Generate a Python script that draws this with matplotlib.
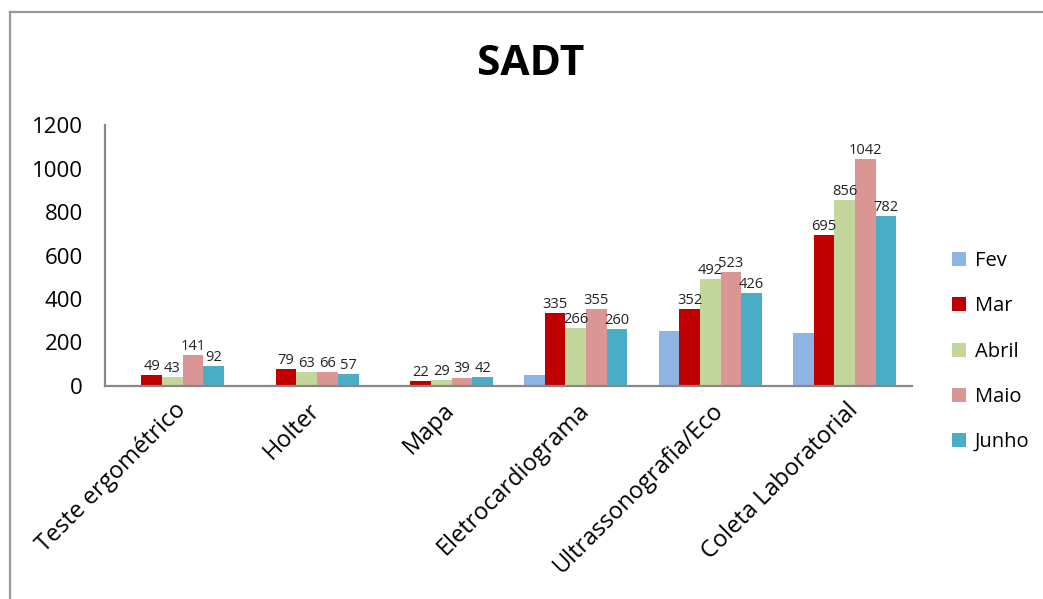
import numpy as np
import matplotlib.pyplot as plt
from matplotlib.lines import Line2D

plt.rcParams['font.family'] = ['Open Sans', 'DejaVu Sans']

categorias = ['Teste ergométrico', 'Holter', 'Mapa', 'Eletrocardiograma',
              'Ultrassonografia/Eco', 'Coleta Laboratorial']
meses = ['Fev', 'Mar', 'Abril', 'Maio', 'Junho']

fev = [0, 0, 0, 50, 255, 245]
mar = [49, 79, 22, 335, 352, 695]
abril = [43, 63, 29, 266, 492, 856]
maio = [141, 66, 39, 355, 523, 1042]
junho = [92, 57, 42, 260, 426, 782]

cores = ['#8EB4E3', '#C00000', '#C3D69B', '#D99694', '#4BACC6']
series = [fev, mar, abril, maio, junho]
rotular = [False, True, True, True, True]

fig = plt.figure(figsize=(10.43, 5.99), dpi=100)
ax = fig.add_axes([0.1007, 0.3556, 0.7737, 0.4357])

x = np.arange(len(categorias))
w = 1 / 6.5
for i, (vals, cor, nome) in enumerate(zip(series, cores, meses)):
    pos = x + (i - 2) * w
    bars = ax.bar(pos, vals, width=w, color=cor, label=nome)
    if rotular[i]:
        for b, v in zip(bars, vals):
            ax.text(b.get_x() + b.get_width() / 2, v + 5, str(v),
                    ha='center', va='bottom', fontsize=10.5, color='#222222')

ax.set_xlim(-0.5, len(categorias) - 0.5)
ax.set_ylim(0, 1200)
ax.set_yticks(range(0, 1201, 200))
ax.tick_params(axis='y', length=0, labelsize=16, pad=16)
ax.tick_params(axis='x', length=0, labelsize=17, pad=9)
ax.set_xticks(x + 0.01)
ax.set_xticklabels(categorias, rotation=45, ha='right', rotation_mode='anchor')

for s in ['top', 'right']:
    ax.spines[s].set_visible(False)
for s in ['left', 'bottom']:
    ax.spines[s].set_color('#888888')
    ax.spines[s].set_linewidth(1.6)

fig.text(0.509, 0.893, 'SADT', ha='center', va='center', fontsize=30.5,
         fontweight='bold')

fig.legend(loc='center left', bbox_to_anchor=(0.895, 0.413), frameon=False,
           fontsize=14.5, handlelength=0.7, handleheight=0.7,
           handletextpad=0.45, labelspacing=1.25)

# moldura
fig.add_artist(Line2D([0.0096, 0.0096], [0, 0.98], color='#999999', lw=1.6,
                      transform=fig.transFigure))
fig.add_artist(Line2D([0.0096, 1], [0.98, 0.98], color='#999999', lw=1.6,
                      transform=fig.transFigure))

fig.savefig('out.png', dpi=100)
